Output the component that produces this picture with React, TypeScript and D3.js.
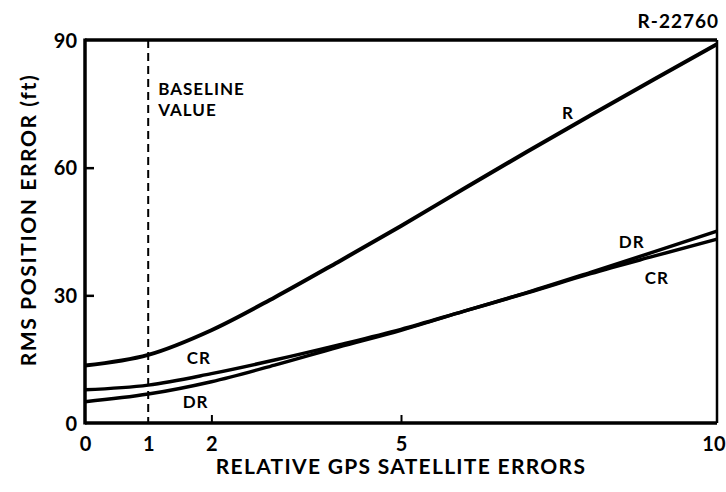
import * as d3 from "d3";
import React, { useEffect, useRef } from "react";

// x positions of the read-off points
const xs = [0, 1, 2, 3, 4, 5, 6, 7, 8, 9, 10];
const rValues = [13.5, 16, 21.8, 29.5, 37.8, 46.3, 55.1, 63.8, 72.3, 80.7, 89];
const crValues = [7.8, 8.9, 11.6, 14.8, 18.3, 22, 26.3, 30.6, 35.1, 39.2, 43.2];
const drValues = [5.0, 6.8, 9.7, 13.6, 17.8, 21.8, 26.3, 30.7, 35.4, 40.2, 45.1];
const xTicks = [0, 1, 2, 5, 10];
const yTicks = [0, 30, 60, 90];
const baselineX = 1;

const FONT = "Lato, 'DejaVu Sans', sans-serif";

const App: React.FC = () => {
  const svgRef = useRef<SVGSVGElement>(null);

  useEffect(() => {
    if (!svgRef.current) return;
    const width = 726;
    const height = 492;
    const margin = { top: 40, right: 9, bottom: 69, left: 85 };
    const plotWidth = width - margin.left - margin.right;
    const plotHeight = height - margin.top - margin.bottom;

    d3.select(svgRef.current).selectAll("*").remove();

    const svg = d3
      .select(svgRef.current)
      .attr("width", width)
      .attr("height", height)
      .style("background-color", "#fff");

    const g = svg
      .append("g")
      .attr("transform", `translate(${margin.left},${margin.top})`);

    const x = d3.scaleLinear().domain([0, 10]).range([0, plotWidth]);
    const y = d3.scaleLinear().domain([0, 90]).range([plotHeight, 0]);

    // Baseline dashed line
    g.append("line")
      .attr("x1", x(baselineX))
      .attr("x2", x(baselineX))
      .attr("y1", 0)
      .attr("y2", plotHeight)
      .attr("stroke", "#000")
      .attr("stroke-width", 2)
      .attr("stroke-dasharray", "8,5");

    ["BASELINE", "VALUE"].forEach((t, i) => {
      g.append("text")
        .attr("x", x(baselineX) + 10)
        .attr("y", 55 + i * 21)
        .attr("font-family", FONT)
        .attr("font-weight", 700)
        .attr("font-size", 17)
        .attr("letter-spacing", 1)
        .text(t);
    });

    // Curves
    const line = d3
      .line<number>()
      .x((d, i) => x(xs[i]))
      .y((d) => y(d))
      .curve(d3.curveMonotoneX);

    const series = [
      { label: "R", data: rValues, w: 4 },
      { label: "CR", data: crValues, w: 3.5 },
      { label: "DR", data: drValues, w: 3.5 },
    ];

    g.selectAll(".curve")
      .data(series)
      .join("path")
      .attr("class", "curve")
      .attr("fill", "none")
      .attr("stroke", "#000")
      .attr("stroke-width", (d) => d.w)
      .attr("d", (d) => line(d.data) || "");

    // Frame
    g.append("line")
      .attr("x1", 0).attr("x2", plotWidth).attr("y1", 0).attr("y2", 0)
      .attr("stroke", "#000").attr("stroke-width", 3.5);
    g.append("line")
      .attr("x1", 0).attr("x2", 0).attr("y1", -1.5).attr("y2", plotHeight + 1.5)
      .attr("stroke", "#000").attr("stroke-width", 3.5);
    g.append("line")
      .attr("x1", 0).attr("x2", plotWidth).attr("y1", plotHeight).attr("y2", plotHeight)
      .attr("stroke", "#000").attr("stroke-width", 3.5);
    g.append("line")
      .attr("x1", plotWidth).attr("x2", plotWidth).attr("y1", 0).attr("y2", plotHeight)
      .attr("stroke", "#000").attr("stroke-width", 2.5);

    // Y axis ticks
    const yAxis = g
      .append("g")
      .call(d3.axisRight(y).tickValues(yTicks).tickSize(9).tickFormat(() => ""));
    yAxis.select(".domain").remove();
    yAxis.selectAll("line").attr("stroke-width", 2.5);
    yAxis
      .selectAll(".tick")
      .filter((d) => d === 0 || d === 90)
      .select("line")
      .remove();
    yAxis
      .selectAll(".tick")
      .append("text")
      .attr("x", -8)
      .attr("dy", "0.35em")
      .attr("fill", "#000")
      .attr("text-anchor", "end")
      .attr("font-family", FONT)
      .attr("font-weight", 700)
      .attr("font-size", 20)
      .text((d) => String(d));

    // X axis ticks
    const xAxis = g
      .append("g")
      .attr("transform", `translate(0,${plotHeight})`)
      .call(d3.axisTop(x).tickValues(xTicks).tickSize(8).tickFormat(() => ""));
    xAxis.select(".domain").remove();
    xAxis.selectAll("line").attr("stroke-width", 2);
    xAxis
      .selectAll(".tick")
      .filter((d) => d === 0 || d === 10 || d === 1)
      .select("line")
      .remove();
    xAxis
      .selectAll(".tick")
      .append("text")
      .attr("y", 21)
      .attr("dy", "0.35em")
      .attr("fill", "#000")
      .attr("text-anchor", (d) => (d === 10 ? "end" : "middle"))
      .attr("dx", (d) => (d === 10 ? 8 : 0))
      .attr("font-family", FONT)
      .attr("font-weight", 700)
      .attr("font-size", 20)
      .text((d) => String(d));

    // Curve labels
    const labels = [
      { t: "R", x: 7.64, y: 72.8 },
      { t: "DR", x: 8.65, y: 42.5 },
      { t: "CR", x: 9.05, y: 34 },
      { t: "CR", x: 1.8, y: 15.3 },
      { t: "DR", x: 1.75, y: 5 },
    ];
    g.selectAll(".lbl")
      .data(labels)
      .join("text")
      .attr("class", "lbl")
      .attr("x", (d) => x(d.x))
      .attr("y", (d) => y(d.y))
      .attr("dy", "0.35em")
      .attr("text-anchor", "middle")
      .attr("font-family", FONT)
      .attr("font-weight", 700)
      .attr("font-size", 17)
      .attr("letter-spacing", 1)
      .text((d) => d.t);

    // Axis titles
    svg
      .append("text")
      .attr("x", margin.left + x(5))
      .attr("y", 474)
      .attr("text-anchor", "middle")
      .attr("font-family", FONT)
      .attr("font-weight", 700)
      .attr("font-size", 21)
      .attr("letter-spacing", 1.3)
      .text("RELATIVE GPS SATELLITE ERRORS");

    svg
      .append("text")
      .attr("transform", `translate(36,220) rotate(-90)`)
      .attr("text-anchor", "middle")
      .attr("font-family", FONT)
      .attr("font-weight", 700)
      .attr("font-size", 21)
      .attr("letter-spacing", 1.6)
      .text("RMS POSITION ERROR (ft)");

    svg
      .append("text")
      .attr("x", 719)
      .attr("y", 28)
      .attr("text-anchor", "end")
      .attr("font-family", FONT)
      .attr("font-weight", 700)
      .attr("font-size", 19)
      .attr("letter-spacing", 1)
      .text("R-22760");
  }, []);

  return (
    <svg
      ref={svgRef}
      style={{ position: "absolute", top: 0, left: 0, display: "block" }}
    />
  );
};

export default App;
